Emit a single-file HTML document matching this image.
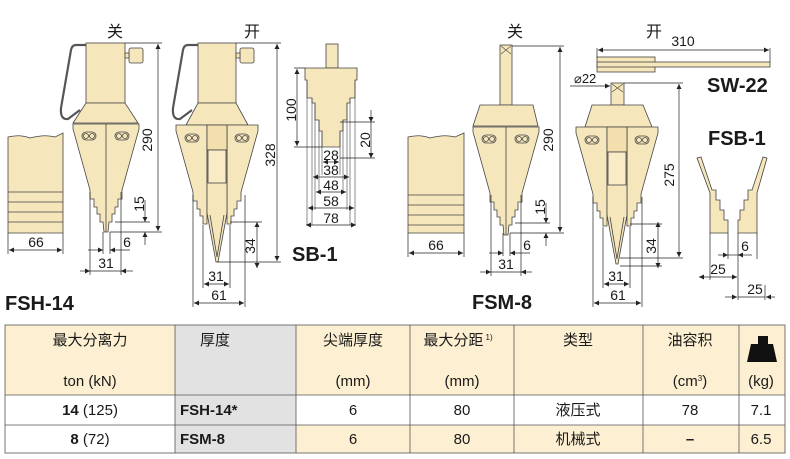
<!DOCTYPE html>
<html><head><meta charset="utf-8"><style>
body{margin:0;background:#fff}
svg{display:block}
text{font-family:"Liberation Sans","Noto Sans CJK SC",sans-serif;fill:#1a1a1a}
.d{font-size:14px}
.t{font-size:15px}
</style></head><body>
<svg width="790" height="459" viewBox="0 0 790 459" xmlns="http://www.w3.org/2000/svg">
<defs>
<marker id="a" viewBox="0 0 10 10" refX="10" refY="5" markerWidth="7" markerHeight="5" orient="auto-start-reverse" markerUnits="userSpaceOnUse"><path d="M0,0L10,5L0,10z" fill="#222"/></marker>
<g id="cj" stroke="#444" stroke-width="0.8" fill="#f6e6bb">
<polygon points="-33,1 33,1 33,6 16,67 16,76 12,76 12,84 9,84 9,91 6,91 6,99 3,99 2,109 -2,109 -3,99 -6,99 -6,91 -9,91 -9,84 -12,84 -12,76 -16,76 -16,67 -33,6"/>
<line x1="0" y1="1" x2="0" y2="109"/>
<rect x="-24" y="9" width="14" height="8" rx="4"/><circle cx="-20" cy="13" r="2.5"/><circle cx="-14" cy="13" r="2.5"/>
<rect x="9" y="9" width="14" height="8" rx="4"/><circle cx="13" cy="13" r="2.5"/><circle cx="19" cy="13" r="2.5"/>
</g>
<g id="oj" stroke="#444" stroke-width="0.8" fill="#f6e6bb">
<polygon points="-41,0 -10,0 -10,99 -14,99 -14,91 -17,91 -17,84 -20,84 -20,76 -24,76 -24,67 -41,6"/>
<polygon points="41,0 10,0 10,99 14,99 14,91 17,91 17,84 20,84 20,76 24,76 24,67 41,6"/>
<polygon points="-10,0 10,0 10,88 1,137 -1,137 -10,88"/>
<polyline points="-7,90 0,132 7,90" fill="none"/>
<rect x="-10" y="0" width="20" height="25" fill="#f3dfad"/>
<rect x="-9" y="25" width="18" height="33" fill="#f8ebc6"/>
<rect x="-32" y="9" width="14" height="8" rx="4"/><circle cx="-28" cy="13" r="2.5"/><circle cx="-22" cy="13" r="2.5"/>
<rect x="18" y="9" width="14" height="8" rx="4"/><circle cx="22" cy="13" r="2.5"/><circle cx="28" cy="13" r="2.5"/>
</g>
</defs>
<g stroke="#444" stroke-width="0.8" fill="#f6e6bb">
<path d="M8,137 Q20,134 30,138 Q45,134 55,137 L63,133 L63,233 L8,233 Z"/>
<path d="M8,192H63M8,202H63M8,212H63M8,222H63" fill="none"/>
<path d="M408,137 Q420,134 430,138 Q445,134 455,137 L464,133 L464,233 L408,233 Z"/>
<path d="M408,195H464M408,205H464M408,215H464M408,225H464" fill="none"/>
<path d="M86,45 L76,45 Q72,45 71,50 L61,108 Q60,120 68,119 L80,110" fill="none" stroke="#555" stroke-width="2.2"/>
<rect x="86" y="43" width="39" height="60"/>
<rect x="129" y="48" width="14" height="15" rx="2"/><rect x="125" y="53" width="4" height="5"/>
<polygon points="86,103 125,103 138,123 73,123"/>
<path d="M198,45 L188,45 Q184,45 183,50 L173,108 Q172,120 180,119 L192,110" fill="none" stroke="#555" stroke-width="2.2"/>
<rect x="198" y="43" width="38" height="60"/>
<rect x="240" y="48" width="14" height="15" rx="2"/><rect x="236" y="53" width="4" height="5"/>
<polygon points="198,103 236,103 248,125 186,125"/>
<rect x="326" y="44" width="12" height="24"/>
<polygon points="305,68 357,68 357,80 355,80 355,98 350,98 350,103 347,103 347,120 343,120 343,131 340,131 340,147 322,147 322,131 319,131 319,120 315,120 315,103 312,103 312,98 307,98 307,80 305,80"/>
<path d="M307,80V225M312,98V225M315,103V210M319,120V193M322,131V175M355,80V225M350,98V225M347,103V210M343,120V193M340,131V175" fill="none" stroke-width="0.6"/>
<rect x="500" y="45" width="12" height="60"/><path d="M501,46l10,8M511,46l-10,8" fill="none" stroke-width="0.6"/>
<polygon points="480,105 533,105 538,126 473,126"/>
<rect x="611" y="83" width="13" height="22"/><path d="M612,84l11,8M623,84l-11,8" fill="none" stroke-width="0.6"/>
<polygon points="592,105 643,105 652,127 585,127"/>
<rect x="597" y="57" width="58" height="15"/>
<rect x="597" y="62" width="173" height="5"/>
<polygon points="697,158 701,157 712,190 716,190 716,200 720,200 720,210 724,210 724,220 728,220 728,233 710,233 710,193"/>
<polygon points="767,158 763,157 752,190 748,190 748,200 744,200 744,210 740,210 740,220 738,220 738,233 757,233 757,193"/>
</g>
<use href="#cj" x="106" y="123"/>
<use href="#oj" x="217" y="125"/>
<use href="#cj" x="506" y="126"/>
<use href="#oj" x="617" y="127"/>

<g stroke="#222" stroke-width="0.7" fill="none">
<path d="M8,233V254M63,233V254"/><line x1="9" y1="250" x2="62" y2="250" marker-start="url(#a)" marker-end="url(#a)"/>
<path d="M125,43H162M110,232H162"/><line x1="158" y1="44" x2="158" y2="231" marker-start="url(#a)" marker-end="url(#a)"/>
<path d="M115,222H150"/><line x1="145" y1="200" x2="145" y2="222" marker-end="url(#a)"/><line x1="145" y1="245" x2="145" y2="232" marker-end="url(#a)"/>
<path d="M90,192V275M103,232V254M110,232V254M121,192V275"/>
<line x1="88" y1="250" x2="103" y2="250" marker-end="url(#a)"/><line x1="130" y1="250" x2="110" y2="250" marker-end="url(#a)"/>
<line x1="80" y1="271" x2="90" y2="271" marker-end="url(#a)"/><line x1="133" y1="271" x2="121" y2="271" marker-end="url(#a)"/><path d="M90,271H121"/>
<path d="M236,43H281M217,262H281"/><line x1="277" y1="44" x2="277" y2="261" marker-start="url(#a)" marker-end="url(#a)"/>
<path d="M230,222H262"/><line x1="257" y1="222" x2="257" y2="268" marker-start="url(#a)" marker-end="url(#a)"/>
<path d="M203,225V288M230,225V288M193,195V307M245,195V307"/>
<line x1="204" y1="284" x2="229" y2="284" marker-start="url(#a)" marker-end="url(#a)"/>
<line x1="194" y1="303" x2="244" y2="303" marker-start="url(#a)" marker-end="url(#a)"/>
<path d="M294,68H305M294,147H322M340,122H375M340,158H375"/>
<line x1="297" y1="69" x2="297" y2="146" marker-start="url(#a)" marker-end="url(#a)"/>
<line x1="371" y1="110" x2="371" y2="122" marker-end="url(#a)"/><line x1="371" y1="150" x2="371" y2="158" marker-end="url(#a)"/><path d="M371,122V150"/>
<line x1="323" y1="162" x2="339" y2="162" marker-start="url(#a)" marker-end="url(#a)"/>
<line x1="313" y1="177" x2="349" y2="177" marker-start="url(#a)" marker-end="url(#a)"/>
<line x1="316" y1="192" x2="346" y2="192" marker-start="url(#a)" marker-end="url(#a)"/>
<line x1="308" y1="208" x2="354" y2="208" marker-start="url(#a)" marker-end="url(#a)"/>
<line x1="306" y1="225" x2="356" y2="225" marker-start="url(#a)" marker-end="url(#a)"/>
<path d="M408,233V257M464,233V257"/><line x1="409" y1="253" x2="463" y2="253" marker-start="url(#a)" marker-end="url(#a)"/>
<path d="M512,46H564M510,233H564"/><line x1="560" y1="47" x2="560" y2="232" marker-start="url(#a)" marker-end="url(#a)"/>
<path d="M515,223H550"/><line x1="546" y1="203" x2="546" y2="223" marker-end="url(#a)"/><line x1="546" y1="246" x2="546" y2="233" marker-end="url(#a)"/>
<path d="M491,195V276M503,233V256M510,233V256M521,195V276"/>
<line x1="489" y1="253" x2="503" y2="253" marker-end="url(#a)"/><line x1="530" y1="253" x2="510" y2="253" marker-end="url(#a)"/>
<line x1="480" y1="272" x2="491" y2="272" marker-end="url(#a)"/><line x1="532" y1="272" x2="521" y2="272" marker-end="url(#a)"/><path d="M491,272H521"/>
<path d="M624,83H683M620,258H683"/><line x1="679" y1="84" x2="679" y2="257" marker-start="url(#a)" marker-end="url(#a)"/>
<path d="M630,224H662M620,266H662"/><line x1="658" y1="222" x2="658" y2="268" marker-start="url(#a)" marker-end="url(#a)"/>
<path d="M603,227V288M630,227V288M593,197V307M642,197V307"/>
<line x1="604" y1="284" x2="629" y2="284" marker-start="url(#a)" marker-end="url(#a)"/>
<line x1="594" y1="303" x2="641" y2="303" marker-start="url(#a)" marker-end="url(#a)"/>
<line x1="570" y1="86" x2="610" y2="86" marker-end="url(#a)"/>
<path d="M597,48V58M770,48V62"/><line x1="598" y1="50" x2="769" y2="50" marker-start="url(#a)" marker-end="url(#a)"/>
<path d="M710,233V280M728,233V259M738,233V300M757,233V259M765,285V300"/>
<line x1="718" y1="255" x2="728" y2="255" marker-end="url(#a)"/><line x1="752" y1="255" x2="738" y2="255" marker-end="url(#a)"/><path d="M728,255H738"/>
<line x1="699" y1="277" x2="737" y2="277" marker-start="url(#a)" marker-end="url(#a)"/>
<line x1="725" y1="297" x2="737" y2="297" marker-end="url(#a)"/><path d="M738,297H765"/><line x1="775" y1="297" x2="766" y2="297" marker-end="url(#a)"/>
</g>
<g class="d">
<text x="115" y="37" text-anchor="middle" font-size="16">关</text>
<text x="252" y="37" text-anchor="middle" font-size="16">开</text>
<text x="515" y="37" text-anchor="middle" font-size="16">关</text>
<text x="654" y="37" text-anchor="middle" font-size="16">开</text>
<text x="36" y="247" text-anchor="middle">66</text>
<text x="436" y="250" text-anchor="middle">66</text>
<text x="127" y="247" text-anchor="middle">6</text>
<text x="527" y="250" text-anchor="middle">6</text>
<text x="106" y="268" text-anchor="middle">31</text>
<text x="506" y="269" text-anchor="middle">31</text>
<text x="216" y="281" text-anchor="middle">31</text>
<text x="616" y="281" text-anchor="middle">31</text>
<text x="219" y="300" text-anchor="middle">61</text>
<text x="618" y="300" text-anchor="middle">61</text>
<text x="331" y="160" text-anchor="middle">28</text>
<text x="331" y="175" text-anchor="middle">38</text>
<text x="331" y="190" text-anchor="middle">48</text>
<text x="331" y="206" text-anchor="middle">58</text>
<text x="331" y="223" text-anchor="middle">78</text>
<text x="683" y="46" text-anchor="middle">310</text>
<text x="574" y="83" font-size="13">⌀22</text>
<text x="745" y="251" text-anchor="middle">6</text>
<text x="718" y="274" text-anchor="middle">25</text>
<text x="755" y="294" text-anchor="middle">25</text>
<text transform="translate(152,140) rotate(-90)" text-anchor="middle">290</text>
<text transform="translate(553,140) rotate(-90)" text-anchor="middle">290</text>
<text transform="translate(144,204) rotate(-90)" text-anchor="middle">15</text>
<text transform="translate(545,207) rotate(-90)" text-anchor="middle">15</text>
<text transform="translate(275,155) rotate(-90)" text-anchor="middle">328</text>
<text transform="translate(674,175) rotate(-90)" text-anchor="middle">275</text>
<text transform="translate(255,246) rotate(-90)" text-anchor="middle">34</text>
<text transform="translate(656,246) rotate(-90)" text-anchor="middle">34</text>
<text transform="translate(296,110) rotate(-90)" text-anchor="middle">100</text>
<text transform="translate(370,140) rotate(-90)" text-anchor="middle">20</text>
</g>
<g>
<text x="5" y="310" font-weight="bold" font-size="20">FSH-14</text>
<text x="292" y="261" font-weight="bold" font-size="20">SB-1</text>
<text x="472" y="309" font-weight="bold" font-size="20">FSM-8</text>
<text x="707" y="92" font-weight="bold" font-size="20">SW-22</text>
<text x="708" y="145" font-weight="bold" font-size="20">FSB-1</text>
</g>
<rect x="5" y="325" width="780" height="70" fill="#fdf0d2"/>
<rect x="5" y="395" width="780" height="30" fill="#fff"/>
<rect x="5" y="425" width="780" height="28" fill="#fdf0d2"/>
<rect x="5" y="425" width="170" height="28" fill="#fff"/>
<rect x="175" y="325" width="121" height="128" fill="#e2e2e2"/>
<g stroke="#555" stroke-width="0.8" fill="none">
<rect x="5" y="325" width="780" height="128"/>
<path d="M5,395H785M5,425H785M175,325V453M296,325V453M410,325V453M514,325V453M643,325V453M739,325V453"/>
</g>
<path d="M747,362L751,344H758V336H768V344H773L777,362Z" fill="#111"/>
<g class="t" text-anchor="middle">
<text x="90" y="345">最大分离力</text>
<text x="90" y="386">ton (kN)</text>
<text x="200" y="345" text-anchor="start">厚度</text>
<text x="353" y="345">尖端厚度</text>
<text x="353" y="386">(mm)</text>
<text x="458" y="345">最大分距<tspan font-size="8" dy="-5"> 1)</tspan></text>
<text x="462" y="386">(mm)</text>
<text x="578" y="345">类型</text>
<text x="690" y="345">油容积</text>
<text x="690" y="386">(cm<tspan font-size="8" dy="-5">3</tspan><tspan dy="5">)</tspan></text>
<text x="761" y="386">(kg)</text>
<text x="90" y="415"><tspan font-weight="bold">14</tspan> (125)</text>
<text x="90" y="444"><tspan font-weight="bold">8</tspan> (72)</text>
<text x="180" y="415" text-anchor="start" font-weight="bold">FSH-14*</text>
<text x="180" y="444" text-anchor="start" font-weight="bold">FSM-8</text>
<text x="353" y="415">6</text><text x="353" y="444">6</text>
<text x="462" y="415">80</text><text x="462" y="444">80</text>
<text x="578" y="415">液压式</text><text x="578" y="444">机械式</text>
<text x="690" y="415">78</text><text x="690" y="444" font-weight="bold">–</text>
<text x="761" y="415">7.1</text><text x="761" y="444">6.5</text>
</g>
</svg>
</body></html>
